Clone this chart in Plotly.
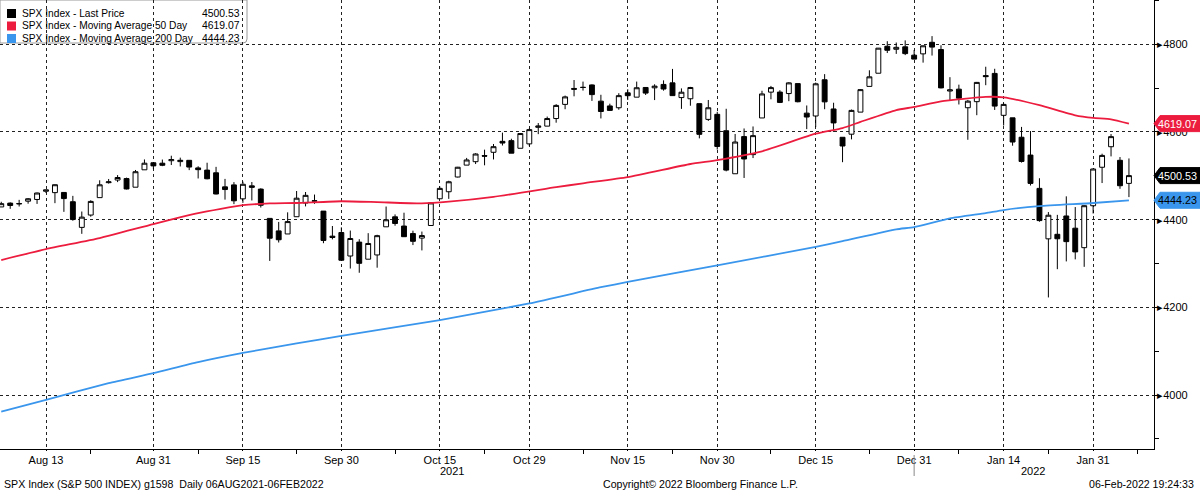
import pandas as pd
import plotly.graph_objects as go

# trading calendar (NYSE holidays removed)
holidays = ["2021-09-06", "2021-11-25", "2021-12-24", "2022-01-17"]
cal = pd.bdate_range("2021-08-06", "2022-02-07")
cal = cal[~cal.isin(pd.to_datetime(holidays))]
pos = {d.strftime("%Y-%m-%d"): i for i, d in enumerate(cal)}

# SPX daily OHLC, 06 Aug 2021 - 04 Feb 2022
open_px = [4429.07, 4437.77, 4435.79, 4442.18, 4446.08, 4464.84, 4461.65, 4462.12, 4440.94, 4382.44,
           4410.56, 4450.29, 4484.40, 4490.45, 4493.75, 4474.10, 4513.76, 4529.75, 4528.80, 4534.48,
           4532.42, 4535.38, 4518.09, 4513.02, 4506.92, 4474.81, 4479.33, 4447.49, 4477.09, 4469.74,
           4402.95, 4374.45, 4367.43, 4406.75, 4438.04, 4442.12, 4419.54, 4362.41, 4370.67, 4317.16,
           4348.84, 4309.87, 4319.57, 4383.73, 4406.51, 4385.44, 4368.31, 4358.01, 4386.75, 4447.69,
           4463.72, 4497.34, 4524.42, 4532.24, 4546.12, 4553.69, 4578.69, 4580.22, 4562.84, 4572.87,
           4610.62, 4613.34, 4630.65, 4662.93, 4699.26, 4701.48, 4707.25, 4670.26, 4659.39, 4655.24,
           4689.30, 4679.42, 4701.50, 4700.72, 4708.44, 4712.00, 4678.48, 4675.78, 4664.63, 4628.75,
           4640.25, 4602.82, 4504.73, 4589.49, 4548.37, 4631.97, 4690.86, 4691.00, 4687.64, 4710.30,
           4642.99, 4636.46, 4719.13, 4652.50, 4587.90, 4594.96, 4645.29, 4703.96, 4733.99, 4795.49,
           4788.64, 4794.23, 4775.21, 4778.14, 4804.51, 4787.99, 4693.39, 4697.66, 4655.34, 4669.14,
           4728.59, 4733.56, 4637.99, 4632.24, 4588.03, 4547.35, 4471.38, 4356.32, 4366.64, 4408.43,
           4380.58, 4336.19, 4431.79, 4519.57, 4566.39, 4535.41, 4482.79]
high_px = [4440.82, 4439.39, 4445.21, 4449.44, 4461.77, 4468.37, 4480.26, 4462.12, 4454.32, 4418.61,
           4444.35, 4489.88, 4492.81, 4501.71, 4495.90, 4513.33, 4537.36, 4531.39, 4537.11, 4545.85,
           4541.45, 4535.38, 4521.79, 4529.90, 4520.47, 4492.99, 4485.68, 4486.87, 4485.87, 4471.52,
           4402.95, 4394.87, 4416.75, 4465.40, 4463.12, 4457.30, 4419.54, 4385.57, 4382.55, 4375.19,
           4355.51, 4369.23, 4365.57, 4429.97, 4412.02, 4415.88, 4374.89, 4372.87, 4439.73, 4475.82,
           4488.75, 4520.40, 4540.87, 4551.44, 4559.67, 4572.62, 4598.53, 4584.57, 4597.55, 4608.08,
           4620.34, 4635.15, 4663.46, 4683.00, 4718.50, 4714.92, 4708.53, 4684.85, 4664.55, 4688.47,
           4697.42, 4714.95, 4701.50, 4708.80, 4717.75, 4743.83, 4699.39, 4702.87, 4664.63, 4672.95,
           4646.02, 4652.94, 4595.46, 4608.03, 4612.60, 4694.04, 4705.06, 4695.26, 4713.57, 4710.30,
           4660.47, 4712.60, 4731.99, 4666.70, 4587.90, 4651.14, 4697.67, 4740.74, 4791.49, 4807.02,
           4804.06, 4808.93, 4786.83, 4796.64, 4818.62, 4797.70, 4725.01, 4707.95, 4673.02, 4714.13,
           4748.83, 4744.13, 4665.13, 4632.24, 4611.55, 4602.11, 4494.52, 4417.35, 4411.01, 4453.23,
           4428.74, 4432.72, 4516.89, 4550.49, 4595.31, 4542.88, 4539.66]
low_px = [4429.07, 4424.74, 4430.03, 4436.42, 4435.96, 4460.82, 4437.66, 4417.83, 4397.59, 4367.73,
          4406.80, 4450.29, 4482.28, 4485.66, 4468.99, 4474.10, 4513.76, 4515.80, 4522.02, 4524.66,
          4521.37, 4513.00, 4493.95, 4492.07, 4457.66, 4445.70, 4435.46, 4438.37, 4443.80, 4427.76,
          4305.91, 4347.96, 4367.43, 4406.75, 4430.27, 4436.19, 4346.33, 4355.08, 4306.24, 4288.52,
          4278.94, 4309.87, 4290.49, 4383.73, 4386.22, 4360.59, 4342.09, 4329.92, 4386.75, 4447.69,
          4447.47, 4496.41, 4524.40, 4526.89, 4524.00, 4537.36, 4569.17, 4551.66, 4562.84, 4567.59,
          4595.06, 4613.34, 4621.19, 4651.89, 4681.32, 4694.39, 4670.87, 4630.86, 4648.31, 4650.77,
          4672.86, 4679.42, 4684.41, 4672.78, 4694.22, 4682.17, 4652.66, 4659.89, 4585.43, 4625.26,
          4560.00, 4510.27, 4504.73, 4495.12, 4540.51, 4631.97, 4674.52, 4665.98, 4670.24, 4667.60,
          4606.52, 4611.22, 4651.89, 4600.22, 4531.10, 4583.16, 4645.29, 4703.96, 4733.99, 4780.04,
          4778.08, 4775.33, 4765.75, 4758.17, 4774.27, 4699.44, 4671.26, 4662.74, 4582.24, 4638.27,
          4706.71, 4650.29, 4614.75, 4568.70, 4530.20, 4477.95, 4395.34, 4222.62, 4287.11, 4304.80,
          4309.50, 4292.46, 4414.02, 4483.53, 4544.32, 4470.39, 4451.50]
close_px = [4436.52, 4432.35, 4436.75, 4447.70, 4460.83, 4468.00, 4479.71, 4448.08, 4400.27, 4405.80,
            4441.67, 4479.53, 4486.23, 4496.19, 4470.00, 4509.37, 4528.79, 4522.68, 4524.09, 4536.95,
            4535.43, 4520.03, 4514.07, 4493.28, 4458.58, 4468.73, 4443.05, 4480.70, 4473.75, 4432.99,
            4357.73, 4354.19, 4395.64, 4448.98, 4455.48, 4443.11, 4352.63, 4359.46, 4307.54, 4357.04,
            4300.46, 4345.72, 4363.55, 4399.76, 4391.34, 4361.19, 4350.65, 4363.80, 4438.26, 4471.37,
            4486.46, 4519.63, 4536.19, 4549.78, 4544.90, 4566.48, 4574.79, 4551.68, 4596.42, 4605.38,
            4613.67, 4630.65, 4660.57, 4680.06, 4697.53, 4701.70, 4685.25, 4646.71, 4649.27, 4682.85,
            4682.80, 4700.90, 4688.67, 4704.54, 4697.96, 4682.94, 4690.70, 4701.46, 4594.62, 4655.27,
            4567.00, 4513.04, 4577.10, 4538.43, 4591.67, 4686.75, 4701.21, 4667.45, 4712.02, 4668.97,
            4634.09, 4709.85, 4668.67, 4620.64, 4568.02, 4649.23, 4696.56, 4725.79, 4791.19, 4786.35,
            4793.06, 4778.73, 4766.18, 4796.56, 4793.54, 4700.58, 4696.05, 4677.03, 4670.29, 4713.07,
            4726.35, 4659.03, 4662.85, 4577.11, 4532.76, 4482.73, 4397.94, 4410.13, 4356.45, 4349.93,
            4326.51, 4431.85, 4515.55, 4546.54, 4589.38, 4477.44, 4500.53]

# moving averages
ma50_dates = ["2021-08-06", "2021-08-13", "2021-08-23", "2021-08-31", "2021-09-08", "2021-09-15",
              "2021-09-20", "2021-09-23", "2021-09-30", "2021-10-06", "2021-10-13", "2021-10-18",
              "2021-10-25", "2021-11-03", "2021-11-08", "2021-11-15", "2021-11-24", "2021-11-30",
              "2021-12-07", "2021-12-15", "2021-12-20", "2021-12-22", "2021-12-29", "2021-12-31",
              "2022-01-05", "2022-01-12", "2022-01-14", "2022-01-21", "2022-01-27", "2022-01-31",
              "2022-02-02", "2022-02-04"]
ma50_vals = [4308, 4333, 4358, 4390, 4415, 4433, 4437, 4438, 4442, 4440, 4437, 4441,
             4452, 4474, 4483, 4497, 4527, 4536, 4556, 4596, 4609, 4623, 4650, 4657,
             4670, 4680, 4679, 4661, 4638, 4632, 4629, 4619.07]
ma200_dates = ["2021-08-06", "2021-08-13", "2021-08-24", "2021-08-31", "2021-09-08", "2021-09-15",
               "2021-09-23", "2021-09-30", "2021-10-15", "2021-10-29", "2021-11-10", "2021-11-15",
               "2021-11-30", "2021-12-15", "2021-12-20", "2021-12-29", "2021-12-31", "2022-01-06",
               "2022-01-12", "2022-01-14", "2022-01-21", "2022-01-31", "2022-02-04"]
ma200_vals = [3962, 3989, 4027, 4050, 4075, 4096, 4118, 4135, 4171, 4209, 4246, 4258,
              4296, 4338, 4351, 4378, 4383, 4403, 4415, 4422, 4431, 4438, 4444.23]

tick_dates = ["2021-08-13", "2021-08-31", "2021-09-15", "2021-09-30", "2021-10-15", "2021-10-29",
              "2021-11-15", "2021-11-30", "2021-12-15", "2021-12-31", "2022-01-14", "2022-01-31"]
tick_labels = ["Aug 13", "Aug 31", "Sep 15", "Sep 30", "Oct 15", "Oct 29",
               "Nov 15", "Nov 30", "Dec 15", "Dec 31", "Jan 14", "Jan 31"]
minor_dates = ["2021-08-20", "2021-09-08", "2021-09-23", "2021-10-08", "2021-10-22", "2021-11-08",
               "2021-11-22", "2021-12-08", "2021-12-23", "2022-01-07", "2022-01-24", "2022-02-07"]
y_ticks = [4000, 4200, 4400, 4600, 4800]

RED = "#ec1c3e"
BLUE = "#3a96ec"
FONT = "Liberation Sans"
FS = 10.6

x = list(range(len(close_px)))
fig = go.Figure()

fig.add_trace(go.Scatter(x=[pos[d] for d in ma200_dates], y=ma200_vals, mode="lines",
                         line=dict(color=BLUE, width=1.8, shape="spline", smoothing=0.5),
                         name="Moving Average 200 Day"))
fig.add_trace(go.Scatter(x=[pos[d] for d in ma50_dates], y=ma50_vals, mode="lines",
                         line=dict(color=RED, width=1.8, shape="spline", smoothing=0.5),
                         name="Moving Average 50 Day"))
fig.add_trace(go.Candlestick(
    x=x, open=open_px, high=high_px, low=low_px, close=close_px,
    increasing=dict(line=dict(color="black", width=1), fillcolor="white"),
    decreasing=dict(line=dict(color="black", width=1), fillcolor="black"),
    name="Last Price", text=[d.strftime("%d %b %Y") for d in cal[:len(close_px)]]))

y0, y1 = 3877, 4901
plot_w, plot_h = 1154, 449

fig.update_layout(
    width=1200, height=491,
    margin=dict(l=0, r=46, t=0, b=42),
    plot_bgcolor="white", paper_bgcolor="white",
    showlegend=False, boxgap=0.22,
    font=dict(family=FONT, size=FS, color="black"),
    xaxis=dict(
        range=[-0.14, 128.8], rangeslider=dict(visible=False),
        tickmode="array", tickvals=[pos[d] for d in tick_dates], ticktext=tick_labels,
        showgrid=True, gridcolor="#222", griddash="dot", gridwidth=1,
        showline=True, linecolor="black", linewidth=1,
        ticks="outside", ticklen=1, tickcolor="black", zeroline=False,
        tickfont=dict(size=11),
        minor=dict(tickmode="array", tickvals=[pos[d] for d in minor_dates],
                   ticks="outside", ticklen=4, tickcolor="black", showgrid=False),
    ),
    yaxis=dict(
        range=[y0, y1], side="right",
        tickmode="array", tickvals=y_ticks, ticktext=["\u25b8" + str(v) for v in y_ticks],
        showgrid=True, gridcolor="#222", griddash="dot", gridwidth=1,
        showline=True, linecolor="black", linewidth=1, zeroline=False,
        ticks="",
        minor=dict(dtick=100, tick0=4000, ticks="outside", ticklen=4, tickcolor="black", showgrid=False),
        tickfont=dict(size=11),
    ),
)

# last-value tags on the price axis
half = 8 * (y1 - y0) / plot_h
x_tip, x_body, x_end = 1.0, 1.0 + 6 / plot_w, 1200 / plot_w
tags = [(ma50_vals[-1], RED, "white"), (close_px[-1], "black", "white"), (ma200_vals[-1], BLUE, "black")]
for val, bg, fg in tags:
    fig.add_shape(type="path", xref="paper", yref="y", layer="above",
                  path=f"M {x_tip},{val} L {x_body},{val + half} L {x_end},{val + half} "
                       f"L {x_end},{val - half} L {x_body},{val - half} Z",
                  fillcolor=bg, line=dict(color=bg, width=1))
    fig.add_annotation(xref="paper", yref="y", x=1199 / plot_w, y=val, xanchor="right", yanchor="middle",
                       text=f"{val:.2f}", showarrow=False, font=dict(size=10.8, color=fg))

# legend box
fig.add_shape(type="path", xref="paper", yref="paper", layer="below",
              path=f"M 0,1 L {247 / plot_w},1 L {247 / plot_w},{1 - 39 / plot_h} "
                   f"Q {247 / plot_w},{1 - 43 / plot_h} {243 / plot_w},{1 - 43 / plot_h} "
                   f"L 0,{1 - 43 / plot_h} Z",
              line=dict(color="#9a9a9a", width=1), fillcolor="rgba(0,0,0,0)")
legend_rows = [("SPX Index - Last Price", close_px[-1], "black"),
               ("SPX Index - Moving Average 50 Day", ma50_vals[-1], RED),
               ("SPX Index - Moving Average 200 Day", ma200_vals[-1], BLUE)]
for k, (lbl, val, col) in enumerate(legend_rows):
    yc = 1 - (13.5 + 12.5 * k) / plot_h
    fig.add_shape(type="rect", xref="paper", yref="paper",
                  x0=7 / plot_w, x1=16 / plot_w, y0=yc - 4.5 / plot_h, y1=yc + 4.5 / plot_h,
                  fillcolor=col, line=dict(width=0))
    fig.add_annotation(xref="paper", yref="paper", x=20 / plot_w, y=yc, xanchor="left", yanchor="middle",
                       text=lbl, showarrow=False, font=dict(size=10.2))
    fig.add_annotation(xref="paper", yref="paper", x=242 / plot_w, y=yc, xanchor="right", yanchor="middle",
                       text=f"{val:.2f}", showarrow=False, font=dict(size=10.4))

# year labels and separator
for yr, xp in [("2021", 452), ("2022", 1033)]:
    fig.add_annotation(xref="paper", yref="paper", x=xp / plot_w, y=-22 / plot_h, text=yr,
                       xanchor="center", yanchor="middle", showarrow=False, font=dict(size=11))
fig.add_shape(type="line", xref="x", yref="paper", x0=pos["2021-12-31"], x1=pos["2021-12-31"],
              y0=-6 / plot_h, y1=-27 / plot_h, line=dict(color="#888", width=1))

# footer
footer = [("SPX Index (S&P 500 INDEX) g1598  Daily 06AUG2021-06FEB2022", 2, "left"),
          ("Copyright\u00a9 2022 Bloomberg Finance L.P.", 700, "center"),
          ("06-Feb-2022 19:24:33", 1196, "right")]
for txt, xp, anc in footer:
    fig.add_annotation(xref="paper", yref="paper", x=xp / plot_w, y=-35 / plot_h, xanchor=anc,
                       yanchor="middle", text=txt, showarrow=False)

fig.write_html("out.html", config={"displayModeBar": False},
               post_script="document.body.style.margin='0px';")
